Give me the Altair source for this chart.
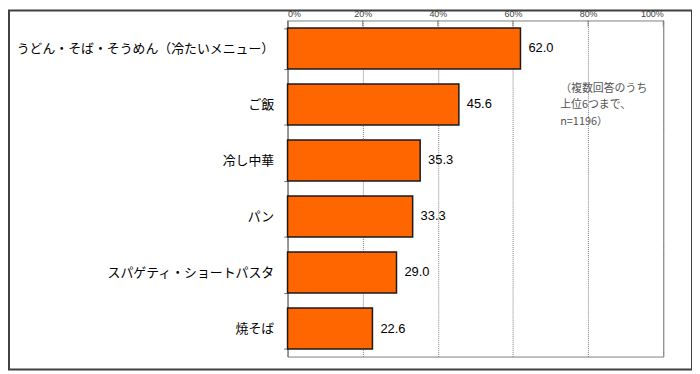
import altair as alt
import pandas as pd

categories = [
    "うどん・そば・そうめん（冷たいメニュー）",
    "ご飯",
    "冷し中華",
    "パン",
    "スパゲティ・ショートパスタ",
    "焼そば",
]
values = [62.0, 45.6, 35.3, 33.3, 29.0, 22.6]
tick_values = [0, 20, 40, 60, 80, 100]
note_lines = ["（複数回答のうち", " 上位6つまで、", "n=1196）"]

df = pd.DataFrame({"cat": categories, "val": values})
ticks_df = pd.DataFrame({"t": tick_values})
note_df = pd.DataFrame({"note": ["\n".join(note_lines)]})

JP = "Noto Sans CJK JP"

x_scale = alt.Scale(domain=[0, 100], nice=False, zero=True)

bars = alt.Chart(df).mark_bar(
    color="#FF6600", stroke="#1a1a1a", strokeWidth=1.5
).encode(
    y=alt.Y(
        "cat:N",
        sort=None,
        title=None,
        scale=alt.Scale(paddingInner=0.27, paddingOuter=0.135),
        axis=alt.Axis(
            labelFont=JP,
            labelFontSize=13,
            labelColor="#000000",
            labelPadding=10,
            domainColor="#808080",
            tickColor="#808080",
            tickSize=4,
            tickBand="extent",
            labelLimit=300,
        ),
    ),
    x=alt.X(
        "val:Q",
        scale=x_scale,
        title=None,
        axis=alt.Axis(
            orient="top",
            values=tick_values,
            labelExpr="datum.value + '%'",
            labelFont="Liberation Sans",
            labelFontSize=9,
            labelColor="#404040",
            labelPadding=2,
            domain=False,
            ticks=False,
            grid=True,
            gridColor="#808080",
            gridDash=[1, 1],
            gridWidth=1,
        ),
    ),
)

labels = alt.Chart(df).mark_text(
    align="left", baseline="middle", dx=8, font="Liberation Sans",
    fontSize=13, color="#000000"
).encode(
    y=alt.Y("cat:N", sort=None),
    x=alt.X("val:Q", scale=x_scale),
    text=alt.Text("val:Q", format=".1f"),
)

top_ticks = alt.Chart(ticks_df).mark_rule(color="#808080", strokeWidth=1).encode(
    x=alt.X("t:Q", scale=x_scale),
    y=alt.value(0),
    y2=alt.value(6),
)

note = alt.Chart(note_df).mark_text(
    align="left", baseline="middle", font=JP, fontSize=11,
    color="#555555", lineHeight=16.5, lineBreak="\n"
).encode(
    x=alt.value(275),
    y=alt.value(69),
    text="note:N",
)

border = alt.Chart(note_df).mark_rect(
    fillOpacity=0, stroke="#404040", strokeWidth=2
).encode(
    x=alt.value(-281),
    x2=alt.value(408),
    y=alt.value(-10),
    y2=alt.value(352),
)

chart = alt.layer(bars, labels, top_ticks, note, border).properties(
    width=379,
    height=339,
    padding={"left": 282, "top": 11, "right": 29, "bottom": 14},
    autosize=alt.AutoSizeParams(type="none"),
    background="#ffffff",
).configure_view(
    stroke="#808080", strokeWidth=1
)

chart.save("out.html", embed_options={"renderer": "svg", "actions": False})
